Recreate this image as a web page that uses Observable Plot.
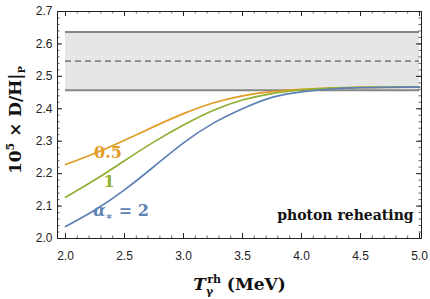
<!DOCTYPE html>
<html><head><meta charset="utf-8">
<script src="https://cdn.jsdelivr.net/npm/d3@7"></script>
<script src="https://cdn.jsdelivr.net/npm/@observablehq/plot@0.6"></script>
<style>body{margin:0;background:#fff} svg{display:block}</style>
</head><body><div id="chart"></div>
<script>
// Data
const temps = [2.0, 2.25, 2.5, 2.75, 3.0, 3.25, 3.5, 3.75, 4.0, 4.25, 4.5, 4.75, 5.0];
const dhAlpha05 = [2.228, 2.263, 2.303, 2.345, 2.385, 2.418, 2.440, 2.453, 2.460, 2.464, 2.466, 2.467, 2.467];
const dhAlpha1  = [2.127, 2.181, 2.240, 2.298, 2.350, 2.395, 2.427, 2.447, 2.458, 2.464, 2.466, 2.467, 2.467];
const dhAlpha2  = [2.037, 2.088, 2.150, 2.222, 2.295, 2.355, 2.400, 2.435, 2.452, 2.461, 2.465, 2.466, 2.467];
const bandLow = 2.457, bandMid = 2.547, bandHigh = 2.637;
const bandX = [2.0, 5.0];
const xTicks = [2.0, 2.5, 3.0, 3.5, 4.0, 4.5, 5.0];
const yTicks = [2.0, 2.1, 2.2, 2.3, 2.4, 2.5, 2.6, 2.7];
const seriesNames = ["0.5", "1", "2"];
const seriesColors = ["#E19C24", "#8FB032", "#5E81B5"];
const curveLabels = [
  {x: 2.36, y: 2.263, text: "0.5", color: "#E19C24"},
  {x: 2.37, y: 2.176, text: "1", color: "#8FB032"},
  {x: 2.47, y: 2.084, text: "α* = 2", color: "#5E81B5"}
];
const annotation = {x: 4.95, y: 2.072, text: "photon reheating"};

const rows = [];
[dhAlpha05, dhAlpha1, dhAlpha2].forEach((arr, i) =>
  arr.forEach((v, j) => rows.push({T: temps[j], dh: v, s: seriesNames[i]})));

const W = 430, H = 299, mL = 57, mR = 9, mT = 11, mB = 61;
const innerW = W - mL - mR, innerH = H - mT - mB;
const xMinor = d3.range(20, 51).map(d => d / 10);
const yMinor = d3.range(100, 136).map(d => d / 50);

const serif = "'DejaVu Serif', 'Liberation Serif', serif";
const sans = "'Liberation Sans', Arial, sans-serif";

const plot = Plot.plot({
  width: W, height: H,
  marginLeft: mL, marginRight: mR, marginTop: mT, marginBottom: mB,
  style: {fontFamily: sans, fontSize: "12px", background: "#fff"},
  x: {domain: [2 - 8/118, 5 + 2/118]},
  y: {domain: [2.0, 2.7]},
  color: {domain: seriesNames, range: seriesColors},
  marks: [
    Plot.rect([0], {x1: bandX[0], x2: bandX[1], y1: bandLow, y2: bandHigh, fill: "#e6e6e6"}),
    Plot.ruleY([bandLow, bandHigh], {x1: bandX[0], x2: bandX[1], stroke: "#858585", strokeWidth: 2}),
    Plot.ruleY([bandMid], {x1: bandX[0], x2: bandX[1], stroke: "#858585", strokeWidth: 1.6, strokeDasharray: "6,4"}),
    Plot.line(rows, {x: "T", y: "dh", z: "s", stroke: "s", strokeWidth: 1.7, curve: "natural"}),
    Plot.frame({stroke: "#222", strokeWidth: 1}),
    Plot.tickX(xTicks, {x: d => d, insetTop: innerH - 5, stroke: "#222"}),
    Plot.tickX(xTicks, {x: d => d, insetBottom: innerH - 5, stroke: "#222"}),
    Plot.tickX(xMinor, {x: d => d, insetTop: innerH - 2.5, stroke: "#222", strokeWidth: 0.7}),
    Plot.tickX(xMinor, {x: d => d, insetBottom: innerH - 2.5, stroke: "#222", strokeWidth: 0.7}),
    Plot.tickY(yTicks, {y: d => d, insetRight: innerW - 5, stroke: "#222"}),
    Plot.tickY(yTicks, {y: d => d, insetLeft: innerW - 5, stroke: "#222"}),
    Plot.tickY(yMinor, {y: d => d, insetRight: innerW - 2.5, stroke: "#222", strokeWidth: 0.7}),
    Plot.tickY(yMinor, {y: d => d, insetLeft: innerW - 2.5, stroke: "#222", strokeWidth: 0.7}),
    Plot.axisX(xTicks, {tickSize: 0, tickPadding: 13, tickFormat: d3.format(".1f"), label: null, fontSize: 12, fill: "#222"}),
    Plot.axisY(yTicks, {tickSize: 0, tickPadding: 5, tickFormat: d3.format(".1f"), label: null, fontSize: 12, fill: "#222"}),
    Plot.text(curveLabels, {x: "x", y: "y", text: "text", fill: "color", fontSize: 16, fontWeight: "bold", fontFamily: serif, className: "curvelab"}),
    Plot.text([annotation], {x: "x", y: "y", text: "text", textAnchor: "end", fontSize: 14, fontWeight: "bold", fontFamily: serif, fill: "#111"}),
    Plot.text(["XLABEL"], {frameAnchor: "bottom", dy: 51, fontSize: 17, fontWeight: "bold", fontFamily: serif, fill: "#111", className: "xlab"}),
    Plot.text(["YLABEL"], {frameAnchor: "left", textAnchor: "middle", dx: -42, dy: -5, rotate: -90, fontSize: 17, fontWeight: "bold", fontFamily: serif, fill: "#111", className: "ylab"})
  ]
});
document.getElementById("chart").appendChild(plot);

// Rich text for labels
d3.select(plot).selectAll(".curvelab text").each(function() {
  const t = d3.select(this);
  if (t.text().startsWith("α")) {
    t.text("");
    t.append("tspan").attr("font-style", "italic").text("α");
    t.append("tspan").attr("font-size", 11).attr("dy", 4).text("∗");
    t.append("tspan").attr("dy", -4).text(" = 2");
  }
});
d3.select(plot).selectAll(".xlab text").each(function() {
  const t = d3.select(this);
  t.text("");
  t.append("tspan").attr("font-style", "italic").text("T");
  t.append("tspan").attr("font-size", 11).attr("dy", 5).text("γ");
  t.append("tspan").attr("font-size", 11).attr("dx", -6).attr("dy", -12).text("rh");
  t.append("tspan").attr("dy", 7).text(" (MeV)");
});
d3.select(plot).selectAll(".ylab text").each(function() {
  const t = d3.select(this);
  t.text("");
  t.append("tspan").text("10");
  t.append("tspan").attr("font-size", 11).attr("dy", -7).text("5");
  t.append("tspan").attr("dy", 7).text(" × D/H|");
  t.append("tspan").attr("font-size", 10).attr("dy", 4).text("P");
});
</script>
</body></html>
